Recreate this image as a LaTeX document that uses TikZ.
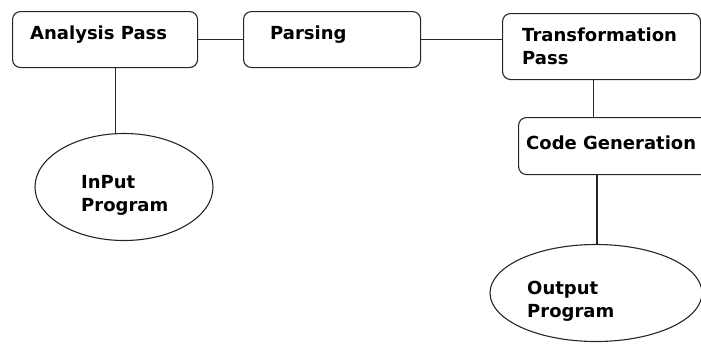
\documentclass[tikz,border=0pt]{standalone}
\usepackage{fontspec}
\setmainfont{DejaVu Sans}
\usetikzlibrary{shapes.geometric}
\begin{document}
\begin{tikzpicture}[x=1pt,y=-1pt,
  box/.style={draw=black!85,line width=1.1pt,rounded corners=8pt,rectangle,anchor=north west,inner sep=0pt},
  oval/.style={draw=black!85,line width=1.1pt,ellipse,inner sep=0pt},
  lbl/.style={anchor=base west,inner sep=0pt,font=\bfseries\fontsize{18}{23}\selectfont,align=left,text=black},
  conn/.style={draw=black!85,line width=1.1pt}]
\useasboundingbox (0,0) rectangle (701,343);
\clip (0,0) rectangle (701,343);
% boxes
\node[box,minimum width=185pt,minimum height=56pt] (ap) at (12,11) {};
\node[box,minimum width=177pt,minimum height=56pt] (pa) at (243,11) {};
\node[box,minimum width=198pt,minimum height=66pt] (tp) at (502,13) {};
\node[box,minimum width=210pt,minimum height=57pt] (cg) at (518,117) {};
\node[oval,minimum width=178pt,minimum height=107pt] (inp) at (124,187) {};
\node[oval,minimum width=212pt,minimum height=97pt] (outp) at (596,293) {};
% labels (base = last line)
\node[lbl] (tap) at (30,39) {Analysis Pass};
\node[lbl] (tpa) at (270,39) {Parsing};
\node[lbl] (ttp) at (522,64) {Transformation\\Pass};
\node[lbl] (tcg) at (526,149) {Code Generation};
\node[lbl] (tin) at (81,211) {InPut\\Program};
\node[lbl] (tout) at (527,317) {Output\\Program};
% connectors
\draw[conn] (ap.east) -- (pa.west);
\draw[conn] (pa.east) -- (tp.west |- pa.east);
\coordinate (a1) at ([xshift=10pt]ap.south);
\draw[conn] (a1) -- (a1 |- inp.north);
\coordinate (t1) at ([xshift=-8pt]tp.south);
\draw[conn] (t1) -- (t1 |- cg.north);
\coordinate (c1) at (cg.south -| outp.north);
\draw[conn] ([xshift=1pt]c1) -- ([xshift=1pt]outp.north);
\end{tikzpicture}
\end{document}
